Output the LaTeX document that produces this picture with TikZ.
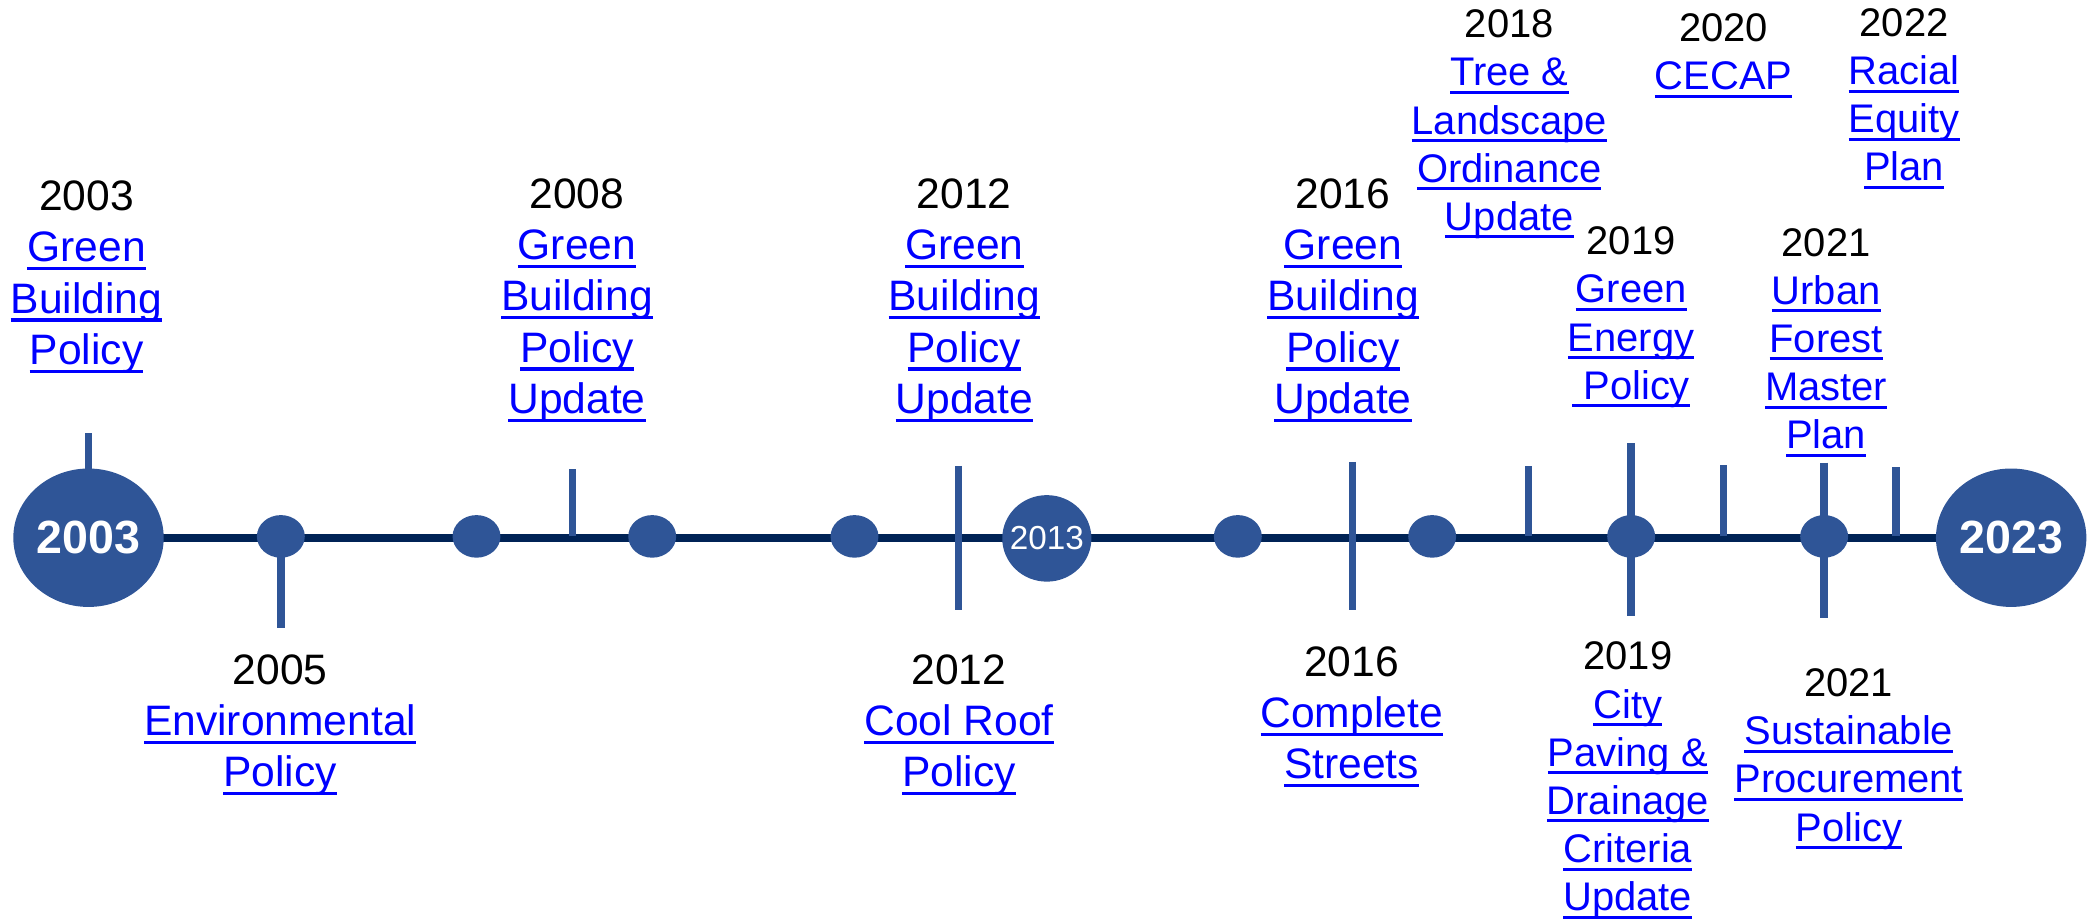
\documentclass[tikz,border=0pt]{standalone}
\usepackage{fontspec}
\setmainfont{Liberation Sans}
\usetikzlibrary{shapes.geometric}
\definecolor{dotblue}{HTML}{2F5597}
\definecolor{axisblue}{HTML}{002356}
\definecolor{linkblue}{HTML}{0000FF}
\newsavebox\lkbox
\newcommand\lnk[1]{\sbox\lkbox{#1}\rlap{\rule[-0.2em]{\wd\lkbox}{0.075em}}\usebox\lkbox}
\tikzset{
  bigdot/.style={ellipse,fill=dotblue,inner sep=-8pt,minimum width=113pt,minimum height=104pt,text=white,font=\fontsize{35}{40}\selectfont\bfseries},
  middot/.style={ellipse,fill=dotblue,inner sep=-8pt,minimum width=67pt,minimum height=65pt,text=white,font=\fontsize{25}{30}\selectfont},
  smalldot/.style={ellipse,fill=dotblue,inner sep=0pt,minimum width=36pt,minimum height=32pt},
  tickline/.style={draw=dotblue,line width=5.5pt},
  axisline/.style={draw=axisblue,line width=5.8pt},
  lblL/.style={anchor=north,align=center,inner sep=0pt,text=linkblue,font=\fontsize{32}{38.5}\selectfont},
  lblR/.style={anchor=north,align=center,inner sep=0pt,text=linkblue,font=\fontsize{30}{36.2}\selectfont},
}
\newcommand\yr[1]{\textcolor{black}{#1}}
\begin{document}
\begin{tikzpicture}[x=1pt,y=-1pt]
\useasboundingbox (0,0) rectangle (1568,690);
% axis coordinates
\coordinate (a2008) at (430,403);
\coordinate (a2012) at (720,403);
\coordinate (a2016) at (1016,403);
\coordinate (a2018) at (1148.5,403);
\coordinate (a2020) at (1295,403);
\coordinate (a2022) at (1424.5,403);
% tick ends
\coordinate (t2003) at (66.5,325);
\coordinate (t2005) at (211,472);
\coordinate (t2008) at (430,352);
\coordinate (t2012u) at (720,350);
\coordinate (t2012d) at (720,458);
\coordinate (t2016u) at (1016,347);
\coordinate (t2016d) at (1016,458);
\coordinate (t2018) at (1148.5,350);
\coordinate (t2019u) at (1225.5,333);
\coordinate (t2019d) at (1225.5,463);
\coordinate (t2020) at (1295,349.5);
\coordinate (t2021u) at (1370.5,347.5);
\coordinate (t2021d) at (1370.5,464.5);
\coordinate (t2022) at (1424.5,351);
% circle positions
\coordinate (p2003) at (66.5,404);
\coordinate (p2023) at (1511,404);
% axis
\draw[axisline] (p2003) -- (p2023);
% ticks
\draw[tickline] (p2003) -- (t2003);
\draw[tickline] (211,403) -- (t2005);
\draw[tickline] (a2008) -- (t2008);
\draw[tickline] (t2012u) -- (t2012d);
\draw[tickline] (t2016u) -- (t2016d);
\draw[tickline] (a2018) -- (t2018);
\draw[tickline] (t2019u) -- (t2019d);
\draw[tickline] (a2020) -- (t2020);
\draw[tickline] (t2021u) -- (t2021d);
\draw[tickline] (a2022) -- (t2022);
% circles
\node[bigdot] (c2003) at (p2003) {2003};
\node[bigdot] (c2023) at (p2023) {2023};
\node[middot] (c2013) at (786.5,404.5) {2013};
\node[smalldot] (d1) at (211,403) {};
\node[smalldot] (d2) at (358,403) {};
\node[smalldot] (d3) at (490,403) {};
\node[smalldot] (d4) at (642,403) {};
\node[smalldot] (d5) at (930,403) {};
\node[smalldot] (d6) at (1076,403) {};
\node[smalldot] (d7) at (1225.5,403) {};
\node[smalldot] (d8) at (1370.5,403) {};
% labels left group
\node[lblL] (L2003) at (65,135.7) {\yr{2003}\\\lnk{Green}\\\lnk{Building}\\\lnk{Policy}};
\node[lblL] (L2008) at (433.5,134) {\yr{2008}\\\lnk{Green}\\\lnk{Building}\\\lnk{Policy}\\\lnk{Update}};
\node[lblL] (L2012a) at (724.5,134) {\yr{2012}\\\lnk{Green}\\\lnk{Building}\\\lnk{Policy}\\\lnk{Update}};
\node[lblL] (L2016a) at (1009,134) {\yr{2016}\\\lnk{Green}\\\lnk{Building}\\\lnk{Policy}\\\lnk{Update}};
\node[lblL] (L2005) at (210.5,491.5) {\yr{2005}\\\lnk{Environmental}\\\lnk{Policy}};
\node[lblL] (L2012b) at (720.5,491.5) {\yr{2012}\\\lnk{Cool Roof}\\\lnk{Policy}};
\node[lblL] (L2016b) at (1015.5,485.5) {\yr{2016}\\\lnk{Complete}\\\lnk{Streets}};
% labels right group
\node[lblR] (L2018) at (1134,7.2) {\yr{2018}\\\lnk{Tree \&}\\\lnk{Landscape}\\\lnk{Ordinance}\\\lnk{Update}};
\node[lblR] (L2020) at (1295,10.2) {\yr{2020}\\\lnk{CECAP}};
\node[lblR] (L2022) at (1430.5,6.2) {\yr{2022}\\\lnk{Racial}\\\lnk{Equity}\\\lnk{Plan}};
\node[lblR] (L2019a) at (1225.5,170.2) {\yr{2019}\\\lnk{Green}\\\lnk{Energy}\\\lnk{\ Policy}};
\node[lblR] (L2021a) at (1372,171.2) {\yr{2021}\\\lnk{Urban}\\\lnk{Forest}\\\lnk{Master}\\\lnk{Plan}};
\node[lblR] (L2019b) at (1223,482.2) {\yr{2019}\\\lnk{City}\\\lnk{Paving \&}\\\lnk{Drainage}\\\lnk{Criteria}\\\lnk{Update}};
\node[lblR] (L2021b) at (1389,502.2) {\yr{2021}\\\lnk{Sustainable}\\\lnk{Procurement}\\\lnk{Policy}};
\end{tikzpicture}
\end{document}
